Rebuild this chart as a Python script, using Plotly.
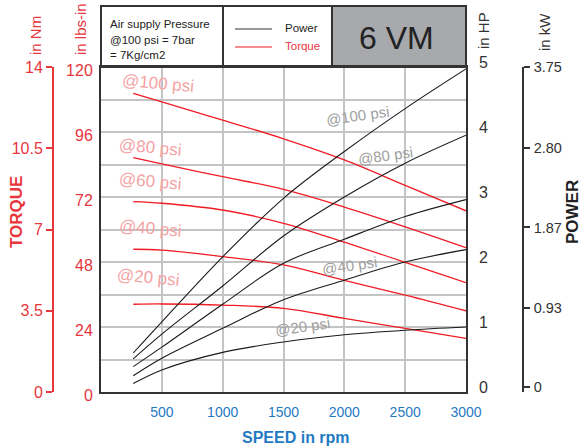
import plotly.graph_objects as go

# ---------------- data ----------------
rpm = [265, 500, 1000, 1500, 2000, 2500, 3000]

# Torque in lbs-in
torque_100 = [110.3, 107.1, 100.4, 93.5, 85.7, 76.3, 66.9]
torque_80 = [86.5, 84.2, 79.5, 74.8, 68.3, 61.0, 53.3]
torque_60 = [70.3, 69.7, 67.2, 62.3, 55.3, 47.9, 40.4]
torque_40 = [52.7, 52.4, 50.0, 46.9, 41.2, 35.8, 30.0]
torque_20 = [32.4, 32.5, 32.1, 30.9, 27.2, 23.5, 19.8]

# Power in HP
power_100 = [0.60, 1.08, 2.08, 2.98, 3.70, 4.36, 4.97]
power_80 = [0.51, 0.89, 1.63, 2.40, 3.00, 3.52, 3.95]
power_60 = [0.39, 0.69, 1.35, 1.98, 2.35, 2.70, 2.96]
power_40 = [0.25, 0.52, 0.98, 1.42, 1.72, 2.00, 2.19]
power_20 = [0.13, 0.34, 0.61, 0.77, 0.88, 0.95, 1.00]

speed_ticks = [500, 1000, 1500, 2000, 2500, 3000]
lbs_ticks = [0, 24, 48, 72, 96, 120]
nm_ticks = [0, 3.5, 7, 10.5, 14]
nm_labels = ["0", "3.5", "7", "10.5", "14"]
hp_ticks = [0, 1, 2, 3, 4, 5]
kw_ticks = [0, 0.93, 1.87, 2.80, 3.75]
kw_labels = ["0", "0.93", "1.87", "2.80", "3.75"]

torque_labels = ["@100 psi", "@80 psi", "@60 psi", "@40 psi", "@20 psi"]
power_labels = ["@100 psi", "@80 psi", "@40 psi", "@20 psi"]

# ---------------- styling ----------------
W, H = 581, 447
FONT = "Liberation Sans, Arial, sans-serif"
RED_TXT = "#e8363d"
RED_LINE = "#f01c24"
BLUE = "#1f7ac3"
DARK = "#333333"
GRID = "#c4c4c4"

def fx(p):
    return p / W

def fy(p):
    return 1 - p / H

PL, PR, PT, PB = 101, 466, 67, 392

fig = go.Figure()

for t in [torque_100, torque_80, torque_60, torque_40, torque_20]:
    fig.add_trace(go.Scatter(x=rpm, y=t, mode="lines", yaxis="y",
                             line=dict(color=RED_LINE, width=1.3, shape="spline"),
                             showlegend=False, hoverinfo="skip"))
for p in [power_100, power_80, power_60, power_40, power_20]:
    fig.add_trace(go.Scatter(x=rpm, y=p, mode="lines", yaxis="y2",
                             line=dict(color="#1a1a1a", width=1.1, shape="spline"),
                             showlegend=False, hoverinfo="skip"))
# empty traces so the secondary scales (Nm, kW) are drawn
fig.add_trace(go.Scatter(x=[], y=[], yaxis="y3", showlegend=False, hoverinfo="skip"))
fig.add_trace(go.Scatter(x=[], y=[], yaxis="y4", showlegend=False, hoverinfo="skip"))

fig.update_layout(
    width=W, height=H, margin=dict(l=0, r=0, t=0, b=0, pad=0, autoexpand=False),
    paper_bgcolor="white", plot_bgcolor="white", showlegend=False,
    xaxis=dict(domain=[fx(PL), fx(PR)], range=[0, 3000], tickvals=speed_ticks,
               showgrid=True, gridcolor=GRID, gridwidth=1.5, zeroline=False,
               showline=True, linecolor=DARK, linewidth=2, mirror=True,
               tickfont=dict(family=FONT, size=14, color=BLUE),
               ticklabelstandoff=6, automargin=False),
    yaxis=dict(domain=[fy(PB), fy(PT)], range=[0, 120],
               tickvals=list(range(0, 121, 12)),
               ticktext=[str(v) if v in lbs_ticks else "" for v in range(0, 121, 12)],
               showgrid=True, gridcolor=GRID, gridwidth=1.5, zeroline=False,
               showline=True, linecolor=DARK, linewidth=2, mirror=True,
               tickfont=dict(family=FONT, size=16, color=RED_TXT),
               ticklabelstandoff=3, ticklabelshift=3, automargin=False),
    yaxis2=dict(overlaying="y", side="right", range=[0, 5], tickvals=hp_ticks,
                showgrid=False, zeroline=False, showline=False,
                tickfont=dict(family=FONT, size=16, color=DARK),
                ticklabelstandoff=12, ticklabelshift=-5, automargin=False),
    yaxis3=dict(overlaying="y", anchor="free", position=fx(53), side="left",
                range=[0, 14], tickvals=nm_ticks, ticktext=nm_labels,
                showgrid=False, zeroline=False, showline=True, linecolor=RED_TXT,
                linewidth=2, ticks="outside", ticklen=6, tickwidth=2, tickcolor=RED_TXT,
                tickfont=dict(family=FONT, size=16, color=RED_TXT), automargin=False),
    yaxis4=dict(overlaying="y", anchor="free", position=fx(523), side="right",
                range=[-0.058, 3.75], tickvals=kw_ticks, ticktext=kw_labels,
                showgrid=False, zeroline=False, showline=True, linecolor=DARK,
                linewidth=1.5, ticks="outside", ticklen=6, tickwidth=1.5, tickcolor=DARK,
                tickfont=dict(family=FONT, size=14.5, color=DARK),
                ticklabelstandoff=1, automargin=False),
)

shapes = []
# header box
shapes.append(dict(type="rect", xref="paper", yref="paper", x0=fx(332), x1=fx(PR), y0=fy(PT), y1=fy(6),
                   fillcolor="#a7a9ac", line=dict(width=0), layer="below"))
shapes.append(dict(type="rect", xref="paper", yref="paper", x0=fx(PL), x1=fx(PR), y0=fy(PT), y1=fy(6),
                   line=dict(color=DARK, width=2)))
for xv in [223, 332]:
    shapes.append(dict(type="line", xref="paper", yref="paper", x0=fx(xv), x1=fx(xv), y0=fy(PT), y1=fy(6),
                       line=dict(color=DARK, width=2)))
# legend lines
shapes.append(dict(type="line", xref="paper", yref="paper", x0=fx(235), x1=fx(272), y0=fy(29), y1=fy(29),
                   line=dict(color="#333", width=1.2)))
shapes.append(dict(type="line", xref="paper", yref="paper", x0=fx(235), x1=fx(272), y0=fy(47), y1=fy(47),
                   line=dict(color=RED_LINE, width=1.2)))
fig.update_layout(shapes=shapes)

ann = []
def A(text, x, y, size, color, angle=0, xanchor="center", bold=False):
    if bold:
        text = "<b>" + text + "</b>"
    ann.append(dict(text=text, x=fx(x), y=fy(y), xref="paper", yref="paper", showarrow=False,
                    xanchor=xanchor, yanchor="middle", textangle=angle,
                    font=dict(family=FONT, size=size, color=color)))

A("Air supply Pressure", 108, 24, 11.5, "#222", xanchor="left")
A("@100 psi = 7bar", 108, 40, 11.5, "#222", xanchor="left")
A("= 7Kg/cm2", 108, 55, 11.5, "#222", xanchor="left")
A("Power", 283, 28, 11.5, "#222", xanchor="left")
A("Torque", 283, 46, 11.5, RED_TXT, xanchor="left")
A("6 VM", 396, 38, 32, "#222")

A("in Nm", 35, 36, 15, RED_TXT, angle=-90)
A("in lbs-in", 81, 29, 15, RED_TXT, angle=-90)
A("in HP", 483, 31, 15, DARK, angle=-90)
A("in kW", 545, 32, 15, DARK, angle=-90)
A("TORQUE", 16, 212, 17, RED_TXT, angle=-90, bold=True)
A("POWER", 572, 212, 17, "#222", angle=-90, bold=True)
A("SPEED in rpm", 296, 437, 16, BLUE, bold=True)

# torque curve labels (pink)
for lab, (x, y) in zip(torque_labels, [(158, 84), (150, 147), (150, 181), (150, 229), (148, 277)]):
    A(lab, x, y, 17, "#f4a3a5", angle=5)
# power curve labels (gray)
for lab, (x, y) in zip(power_labels, [(358, 116), (385, 156), (349, 265), (303, 326)]):
    A(lab, x, y, 15, "#a0a0a0", angle=-8)

fig.update_layout(annotations=ann)
fig.write_html("out.html")
